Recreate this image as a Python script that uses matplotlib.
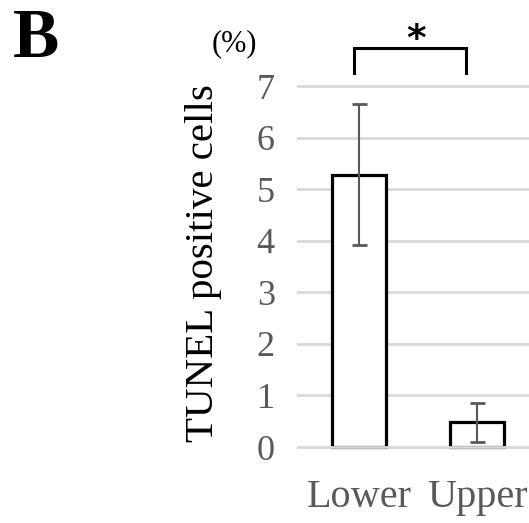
import numpy as np
import matplotlib.pyplot as plt

# ---------- Data ----------
groups = ['Lower', 'Upper']
means = [5.28, 0.48]
errs = [1.37, 0.38]
yticks = [0, 1, 2, 3, 4, 5, 6, 7]

plt.rcParams['font.family'] = ['Liberation Serif', 'DejaVu Serif']

fig = plt.figure(figsize=(5.29, 5.23), dpi=100)
ax = fig.add_axes([0.5614, 0.1403, 0.4386, 0.700])

x = np.arange(len(groups))
ax.bar(x, means, width=0.46, color='white', edgecolor='black', linewidth=2.3, zorder=2)
ax.errorbar(x, means, yerr=errs, fmt='none', ecolor='#595959', elinewidth=1.5,
            capsize=5.4, capthick=2, zorder=3)

# gridlines (the zero line covers the bar bottoms, as in Excel)
for v in yticks:
    ax.axhline(v, color='#d9d9d9', linewidth=2, zorder=1 if v else 4)

ax.set_xlim(-0.525, 1.44)
ax.set_ylim(-0.05, 7.05)
ax.set_yticks(yticks)
ax.set_xticks(x)
ax.set_xticklabels(groups, fontsize=29, color='#595959')
ax.tick_params(axis='y', labelsize=26, labelcolor='#595959', length=0, pad=16)
ax.tick_params(axis='x', length=0, pad=21)
for s in ax.spines.values():
    s.set_visible(False)

# significance bracket
bx0, bx1, ytop, yleg = -0.04, 0.91, 7.73, 7.25
ax.plot([bx0, bx0, bx1, bx1], [yleg, ytop, ytop, yleg], color='black',
        linewidth=2.2, clip_on=False, solid_joinstyle='miter')
fig.text(416 / 529, 1 - 40 / 523, '*', ha='center', va='center', fontsize=27,
         family='DejaVu Sans', fontweight='bold')

fig.text(203 / 529, 1 - 263 / 523, 'TUNEL positive cells', rotation=90,
         ha='center', va='center', fontsize=29.5)
fig.text(234 / 529, 1 - 44 / 523, '(%)', ha='center', va='center', fontsize=22)
fig.text(36 / 529, 1 - 40 / 523, 'B', ha='center', va='center', fontsize=50,
         fontweight='bold')

fig.savefig('out.png', dpi=100)
